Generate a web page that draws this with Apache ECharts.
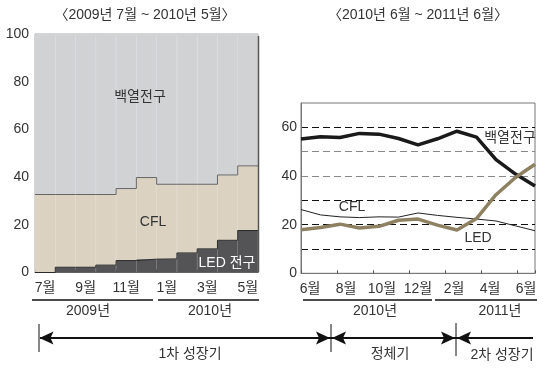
<!DOCTYPE html>
<html>
<head>
<meta charset="utf-8">
<script src="https://cdn.jsdelivr.net/npm/echarts@6/dist/echarts.min.js"></script>
<style>
html,body{margin:0;padding:0;background:#fff;}
#c{width:550px;height:368px;}
</style>
</head>
<body>
<div id="c"></div>
<script>
// ---- Data ----
var leftMonths = ['7월','8월','9월','10월','11월','12월','1월','2월','3월','4월','5월'];
var ledLeft = [0, 2.2, 2.2, 3.1, 5.0, 5.6, 5.7, 8.2, 9.9, 13.5, 17.6];
var cflLeft = [32.7, 30.5, 30.5, 29.6, 30.2, 34.2, 31.3, 28.8, 27.1, 27.4, 27.1];
var incLeft = [67.3, 67.3, 67.3, 67.3, 64.8, 60.2, 63.0, 63.0, 63.0, 59.1, 55.3];

var rightMonths = ['6월','7월','8월','9월','10월','11월','12월','1월','2월','3월','4월','5월','6월'];
var incRight = [55.2, 56.1, 55.8, 57.5, 57.2, 55.4, 52.8, 55.3, 58.4, 56.0, 46.7, 40.8, 35.9];
var cflRight = [26.2, 24.0, 23.2, 22.9, 23.2, 23.1, 24.8, 23.8, 23.0, 22.3, 21.5, 19.5, 17.5];
var ledRight = [17.9, 18.8, 20.2, 18.6, 19.3, 21.8, 22.3, 19.8, 17.8, 22.5, 32.3, 39.4, 44.8];

var leftYTicks = [0, 20, 40, 60, 80, 100];
var rightYTicks = [0, 20, 40, 60];

// ---- Build ----
var FONT = "'Liberation Sans', 'Noto Sans CJK KR', sans-serif";
var TXT = '#333';
var NONE = 'rgba(0,0,0,0)';

var topLeft = ledLeft.map(function(v, i){ return +(v + cflLeft[i]).toFixed(2); });
function stepPts(arr){
  var pts = arr.map(function(v, i){ return [i, v]; });
  pts.push([arr.length, arr[arr.length - 1]]);
  return pts;
}

var chart = echarts.init(document.getElementById('c'));
var option = {
  animation: false,
  backgroundColor: '#fff',
  textStyle: { fontFamily: FONT },
  grid: [
    { left: 35, top: 34, width: 223, height: 238.5, show: true, borderColor: '#aaa', borderWidth: 1 },
    { left: 301, top: 103, width: 234, height: 170.3, show: true, borderColor: '#777', borderWidth: 1 }
  ],
  xAxis: [
    { gridIndex: 0, type: 'category', data: leftMonths, boundaryGap: true,
      axisLine: { show: true, lineStyle: { color: '#777' } },
      axisTick: { show: true, inside: true, length: 3, lineStyle: { color: '#555' } },
      axisLabel: { interval: 1, color: TXT, fontSize: 14, fontFamily: FONT, margin: 9 } },
    { gridIndex: 0, type: 'value', min: 0, max: leftMonths.length, show: false },
    { gridIndex: 1, type: 'category', data: rightMonths, boundaryGap: true,
      axisLine: { show: true, lineStyle: { color: '#777' } },
      axisTick: { show: true, inside: true, length: 3, lineStyle: { color: '#555' } },
      axisLabel: { interval: 1, color: TXT, fontSize: 14, fontFamily: FONT, margin: 9 } },
    { gridIndex: 1, type: 'category', data: rightMonths, boundaryGap: false, show: false }
  ],
  yAxis: [
    { gridIndex: 0, type: 'value', min: 0, max: 100, interval: 20,
      axisLine: { show: false }, axisTick: { show: false }, splitLine: { show: false },
      axisLabel: { color: TXT, fontSize: 14, fontFamily: FONT, margin: 6 } },
    { gridIndex: 1, type: 'value', min: 0, max: 70, interval: 10,
      axisLine: { show: true, lineStyle: { color: '#777' } }, axisTick: { show: false },
      splitLine: { show: true, lineStyle: { type: [7, 4], width: 1,
        color: [NONE, '#111', '#111', '#111', '#888', '#888', '#111', NONE] } },
      axisLabel: { color: TXT, fontSize: 14, fontFamily: FONT, margin: 4,
        formatter: function(v){ return rightYTicks.indexOf(v) >= 0 ? String(v) : ''; } } }
  ],
  series: [
    { type: 'bar', name: 'LED 전구', xAxisIndex: 0, yAxisIndex: 0, stack: 'L', data: ledLeft,
      barCategoryGap: '0%', itemStyle: { color: '#545457', borderColor: '#545457', borderWidth: 0.5 } },
    { type: 'bar', name: 'CFL', xAxisIndex: 0, yAxisIndex: 0, stack: 'L', data: cflLeft,
      barCategoryGap: '0%', itemStyle: { color: '#dbd2c1', borderColor: '#dbd2c1', borderWidth: 0.5 } },
    { type: 'bar', name: '백열전구', xAxisIndex: 0, yAxisIndex: 0, stack: 'L', data: incLeft,
      barCategoryGap: '0%', itemStyle: { color: '#d1d2d4', borderColor: '#d1d2d4', borderWidth: 0.5 } },
    { type: 'line', xAxisIndex: 1, yAxisIndex: 0, data: stepPts(topLeft), step: 'end',
      showSymbol: false, lineStyle: { color: '#666', width: 1 }, z: 5 },
    { type: 'line', xAxisIndex: 1, yAxisIndex: 0, data: stepPts(ledLeft), step: 'end',
      showSymbol: false, lineStyle: { color: '#2a2a2a', width: 1 }, z: 5 },

    { type: 'line', name: 'CFL', xAxisIndex: 3, yAxisIndex: 1, data: cflRight,
      showSymbol: false, lineStyle: { color: '#222', width: 1 }, z: 4 },
    { type: 'line', name: '백열전구', xAxisIndex: 3, yAxisIndex: 1, data: incRight,
      showSymbol: false, lineStyle: { color: '#1a1a1a', width: 3.5 }, z: 5 },
    { type: 'line', name: 'LED', xAxisIndex: 3, yAxisIndex: 1, data: ledRight,
      showSymbol: false, lineStyle: { color: '#8d8162', width: 3.5 }, z: 6 }
  ],
  graphic: []
};

function txt(t, x, y, opts){
  opts = opts || {};
  return { type: 'text', x: x, y: y, z: 100, style: { text: t, fill: opts.fill || TXT,
    font: (opts.size || 14) + 'px ' + FONT, align: opts.align || 'center', verticalAlign: 'middle' } };
}
function ln(x1, y1, x2, y2, w){
  return { type: 'line', z: 100, shape: { x1: x1, y1: y1, x2: x2, y2: y2 },
    style: { stroke: '#111', lineWidth: w || 1 } };
}
function arrow(tipX, y, dir){
  var b = tipX + dir * 14, n = tipX + dir * 11;
  return { type: 'polygon', z: 101, shape: { points: [[tipX, y], [b, y - 6.5], [n, y], [b, y + 6.5]] },
    style: { fill: '#111' } };
}

var g = option.graphic;
g.push(txt('〈2009년 7월 ~ 2010년 5월〉', 145, 15));
g.push(txt('〈2010년 6월 ~ 2011년 6월〉', 418, 15));
g.push(txt('백열전구', 140, 97));
g.push(txt('CFL', 153, 222));
g.push(txt('LED 전구', 227, 263, { fill: '#fff' }));
g.push(txt('백열전구', 510, 138));
g.push(txt('CFL', 352, 207));
g.push(txt('LED', 478, 238));
// right edge of left panel
g.push({ type: 'line', z: 50, shape: { x1: 258.5, y1: 36, x2: 258.5, y2: 272 }, style: { stroke: '#555', lineWidth: 1.5 } });
// year brackets
g.push(ln(32, 300, 153, 300, 1.3));
g.push(ln(158, 300, 259, 300, 1.3));
g.push(ln(303, 300, 432, 300, 1.3));
g.push(ln(435, 300, 537, 300, 1.3));
g.push(txt('2009년', 88, 311));
g.push(txt('2010년', 210, 311));
g.push(txt('2010년', 375, 311));
g.push(txt('2011년', 500, 311));
// period arrows
g.push(ln(40, 338, 533, 338, 2));
g.push(ln(39, 324, 39, 352, 1));
g.push(ln(331, 324, 331, 352, 1));
g.push(ln(456, 323, 456, 356, 1));
g.push(arrow(39.5, 338, 1));
g.push(arrow(330, 338, -1));
g.push(arrow(332, 338, 1));
g.push(arrow(455, 338, -1));
g.push(arrow(457, 338, 1));
g.push(txt('1차 성장기', 190, 354));
g.push(txt('정체기', 390, 354));
g.push(txt('2차 성장기', 502, 355));

chart.setOption(option);
</script>
</body>
</html>
